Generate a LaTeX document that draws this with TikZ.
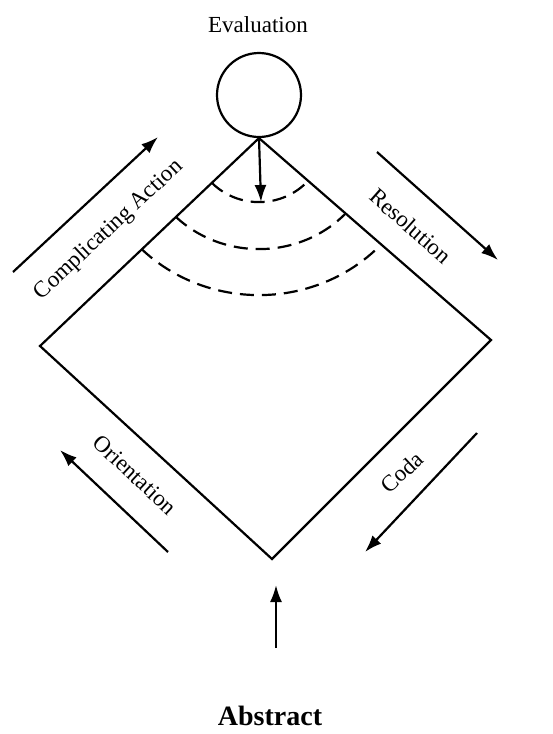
\documentclass[tikz,border=0pt]{standalone}
\usepackage{fontspec}
\setmainfont{Liberation Serif}
\usetikzlibrary{arrows.meta,calc}
\tikzset{
  edge/.style={line width=2.2pt, line join=miter},
  arr/.style={-{Latex[length=17pt,width=12pt]}, line width=2.2pt},
  side/.style={font=\fontsize{23}{26}\selectfont, inner sep=0pt},
  ring/.style={dash pattern=on 14pt off 8pt, line width=2.2pt},
}

\begin{document}
\begin{tikzpicture}[x=1pt, y=-1pt]
  \useasboundingbox (0,0) rectangle (552,734);

  \node[side] (evaltxt) at (258,25) {Evaluation};
  \node[draw, circle, line width=2.2pt, minimum size=84pt, inner sep=0pt] (evalc) at (259,95) {};

  \coordinate (top) at (evalc.south);
  \coordinate (lft) at (40,346);
  \coordinate (bot) at (272,559);
  \coordinate (rgt) at (491,340);
  \draw[edge] (top) -- (lft) -- (bot) -- (rgt) -- cycle;

  \coordinate (dip) at (261,202);
  \draw[arr] (top) -- (dip);
  \draw[ring] ($(top)+(135.7:66 and 64)$) arc[start angle=135.7, end angle=42.3, x radius=66, y radius=64];
  \draw[ring] ($(top)+(134.8:118 and 111)$) arc[start angle=134.8, end angle=43.2, x radius=118, y radius=111];
  \draw[ring] ($(top)+(135:166 and 157)$) arc[start angle=135, end angle=43, x radius=166, y radius=157];

  \coordinate (ca0) at (13,272);
  \coordinate (ca1) at (158,137);
  \draw[arr] (ca0) -- (ca1);
  \node[side, rotate=43] (catxt) at (109,230) {Complicating Action};

  \coordinate (res0) at (377,152);
  \coordinate (res1) at (498,260);
  \draw[arr] (res0) -- (res1);
  \node[side, rotate=-41.5] (restxt) at (411,226) {Resolution};

  \coordinate (ori0) at (168,552);
  \coordinate (ori1) at (60,450);
  \draw[arr] (ori0) -- (ori1);
  \node[side, rotate=-43] (oritxt) at (135,475) {Orientation};

  \coordinate (coda0) at (477,433);
  \coordinate (coda1) at (365,552);
  \draw[arr] (coda0) -- (coda1);
  \node[side, rotate=43] (codatxt) at (402,472) {Coda};

  \node[font=\fontsize{28}{32}\selectfont\bfseries, inner sep=0pt] (abstxt) at (270,716) {Abstract};
  \coordinate (abs0) at (276,648);
  \coordinate (abs1) at (276,585);
  \draw[arr] (abs0) -- (abs1);
\end{tikzpicture}
\end{document}
